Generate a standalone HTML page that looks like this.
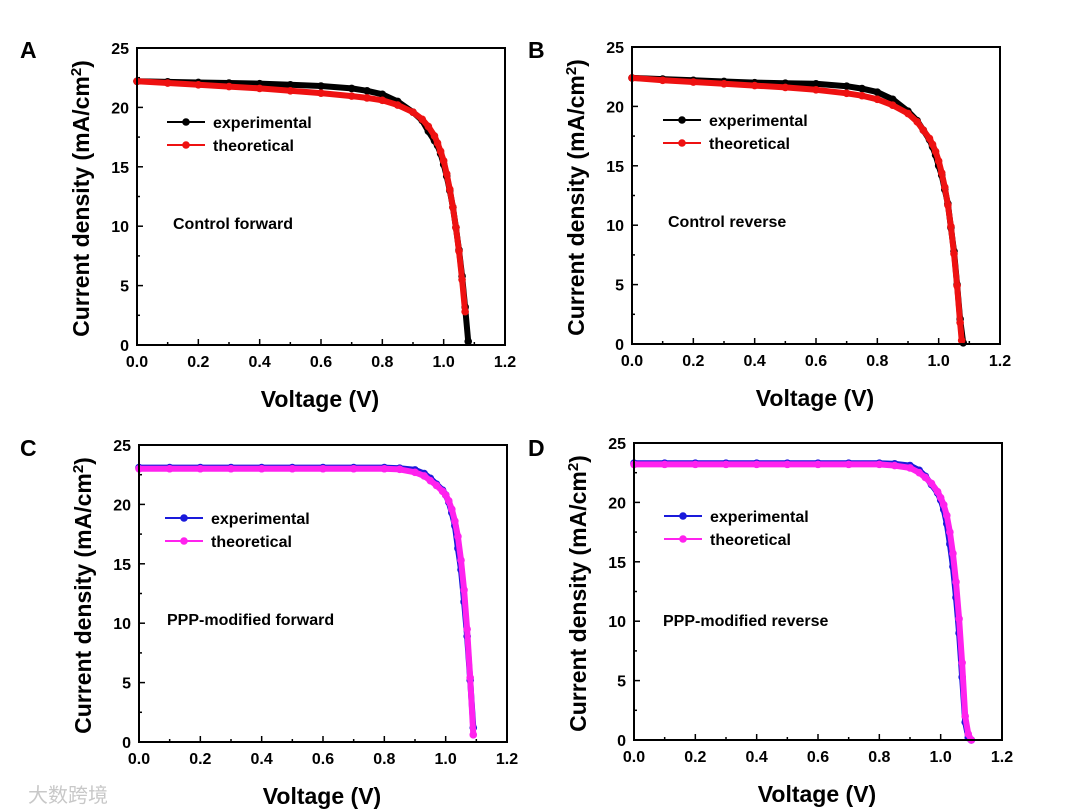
<!DOCTYPE html>
<html><head><meta charset="utf-8"><style>
body{margin:0;background:#fff;}
svg{display:block;font-family:"Liberation Sans",Arial,sans-serif;}
</style></head><body>
<svg id="fig" width="1080" height="812" viewBox="0 0 1080 812"></svg>
<script>
// Data arrays (voltage in V, current density in mA/cm2)
const vA_exp=[0,0.1,0.2,0.3,0.4,0.5,0.6,0.7,0.75,0.8,0.85,0.9,0.93,0.95,0.97,0.98,0.99,1.0,1.01,1.02,1.03,1.04,1.05,1.06,1.07,1.08];
const jA_exp=[22.2,22.15,22.1,22.05,22.0,21.9,21.8,21.6,21.4,21.1,20.5,19.6,18.9,18.0,17.2,16.8,16.1,15.2,14.2,13.0,11.6,9.9,8.0,5.8,3.2,0.3];
const vA_th=[0,0.1,0.2,0.3,0.4,0.5,0.6,0.7,0.75,0.8,0.85,0.9,0.93,0.95,0.97,0.98,0.99,1.0,1.01,1.02,1.03,1.04,1.05,1.06,1.07];
const jA_th=[22.2,22.05,21.9,21.75,21.6,21.4,21.2,20.95,20.8,20.6,20.2,19.6,19.0,18.4,17.6,17.0,16.3,15.5,14.4,13.1,11.6,9.9,7.9,5.5,2.8];
const vB_exp=[0,0.1,0.2,0.3,0.4,0.5,0.6,0.7,0.75,0.8,0.85,0.9,0.93,0.95,0.97,0.98,0.99,1.0,1.01,1.02,1.03,1.04,1.05,1.06,1.07,1.08];
const jB_exp=[22.4,22.3,22.2,22.1,22.0,21.95,21.9,21.7,21.5,21.2,20.6,19.6,18.8,18.0,17.2,16.6,15.9,15.0,14.2,13.0,11.8,9.8,7.8,5.0,2.1,0.1];
const vB_th=[0,0.1,0.2,0.3,0.4,0.5,0.6,0.7,0.75,0.8,0.85,0.9,0.93,0.95,0.97,0.98,0.99,1.0,1.01,1.02,1.03,1.04,1.05,1.06,1.07,1.075];
const jB_th=[22.4,22.2,22.05,21.9,21.75,21.6,21.4,21.1,20.9,20.6,20.1,19.4,18.7,18.0,17.3,16.8,16.2,15.4,14.4,13.2,11.7,9.9,7.6,4.9,1.8,0.3];
const vC_exp=[0,0.1,0.2,0.3,0.4,0.5,0.6,0.7,0.8,0.85,0.9,0.93,0.95,0.97,0.99,1.0,1.01,1.02,1.03,1.04,1.05,1.06,1.07,1.08,1.09];
const jC_exp=[23.1,23.1,23.1,23.1,23.1,23.1,23.1,23.1,23.1,23.05,22.9,22.6,22.2,21.7,21.2,20.8,20.2,19.3,18.2,16.3,14.5,11.8,8.9,5.2,1.2];
const vC_th=[0,0.1,0.2,0.3,0.4,0.5,0.6,0.7,0.8,0.85,0.9,0.93,0.95,0.97,0.99,1.0,1.01,1.02,1.03,1.04,1.05,1.06,1.07,1.08,1.09];
const jC_th=[23.0,23.0,23.0,23.0,23.0,23.0,23.0,23.0,23.0,22.95,22.7,22.4,22.0,21.6,21.1,20.8,20.3,19.6,18.6,17.3,15.3,12.8,9.5,5.4,0.6];
const vD_exp=[0,0.1,0.2,0.3,0.4,0.5,0.6,0.7,0.8,0.85,0.9,0.93,0.95,0.97,0.99,1.0,1.01,1.02,1.03,1.04,1.05,1.06,1.07,1.08,1.09,1.1];
const jD_exp=[23.3,23.3,23.3,23.3,23.3,23.3,23.3,23.3,23.3,23.25,23.1,22.7,22.2,21.5,20.8,20.2,19.4,18.2,16.5,14.6,12.0,9.0,5.3,1.5,0.2,0];
const vD_th=[0,0.1,0.2,0.3,0.4,0.5,0.6,0.7,0.8,0.85,0.9,0.93,0.95,0.97,0.99,1.0,1.01,1.02,1.03,1.04,1.05,1.06,1.07,1.08,1.09,1.1];
const jD_th=[23.2,23.2,23.2,23.2,23.2,23.2,23.2,23.2,23.2,23.1,22.9,22.5,22.1,21.6,20.9,20.4,19.8,18.9,17.5,15.7,13.3,10.2,6.5,2.0,0.5,0];
const xTicks=["0.0","0.2","0.4","0.6","0.8","1.0","1.2"];
const yTicks=["0","5","10","15","20","25"];

const NS="http://www.w3.org/2000/svg";
const svg=document.getElementById('fig');
function mk(tag,attrs,parent,text){const e=document.createElementNS(NS,tag);for(const k in attrs)e.setAttribute(k,attrs[k]);if(text!==undefined)e.textContent=text;(parent||svg).appendChild(e);return e;}

const panels=[
 {id:'a',letter:'A',lx:20,ly:58,x0:137,y0:48,label:'Control forward',labx:173,laby:229,legx:167,legy:122,ve:vA_exp,je:jA_exp,vt:vA_th,jt:jA_th,ce:'#000000',ct:'#ee1111'},
 {id:'b',letter:'B',lx:528,ly:58,x0:632,y0:47,label:'Control reverse',labx:668,laby:227,legx:663,legy:120,ve:vB_exp,je:jB_exp,vt:vB_th,jt:jB_th,ce:'#000000',ct:'#ee1111'},
 {id:'c',letter:'C',lx:20,ly:456,x0:139,y0:445,label:'PPP-modified forward',labx:167,laby:625,legx:165,legy:518,ve:vC_exp,je:jC_exp,vt:vC_th,jt:jC_th,ce:'#1a1adb',ct:'#ff22ee'},
 {id:'d',letter:'D',lx:528,ly:456,x0:634,y0:443,label:'PPP-modified reverse',labx:663,laby:626,legx:664,legy:516,ve:vD_exp,je:jD_exp,vt:vD_th,jt:jD_th,ce:'#1a1adb',ct:'#ff22ee'}
];
const W=368,H=297;
panels.forEach(p=>{
 const g=mk('g',{});
 
 
 const sx=v=>p.x0+v/1.2*W, sy=j=>p.y0+H-j/25*H;
 const L=mk('text',{x:p.lx,y:p.ly,'font-size':23,'font-weight':'bold'},g,p.letter);
 
 
 for(let i=0;i<=12;i++){const x=sx(i*0.1);mk('line',{x1:x,x2:x,y1:p.y0+H,y2:p.y0+H-(i%2?3:6),stroke:'#000','stroke-width':1.5},g);}
 for(let i=0;i<=10;i++){const y=sy(i*2.5);mk('line',{x1:p.x0,x2:p.x0+(i%2?3:6),y1:y,y2:y,stroke:'#000','stroke-width':1.5},g);}
 xTicks.forEach((t,i)=>{const e=mk('text',{x:sx(i*0.2),y:p.y0+H+22,'font-size':16,'font-weight':'bold','text-anchor':'middle'},g,t);
  });
 yTicks.forEach((t,i)=>{const e=mk('text',{x:p.x0-8,y:sy(i*5)+6,'font-size':16,'font-weight':'bold','text-anchor':'end'},g,t);
  });
 const xt=mk('text',{x:p.x0+183,y:p.y0+H+62,'font-size':23,'font-weight':'bold','text-anchor':'middle'},g,'Voltage (V)');
 
 const yt=mk('text',{transform:`translate(${p.x0-48},${p.y0+H/2+2}) rotate(-90)`,'font-size':23,'font-weight':'bold','text-anchor':'middle'},g);
 yt.innerHTML='Current density (mA/cm<tspan dy="-8" font-size="15">2</tspan><tspan dy="8">)</tspan>';
 
 [[p.ve,p.je,p.ce,'experimental'],[p.vt,p.jt,p.ct,'theoretical']].forEach(([vs,js,c,nm])=>{
  const sg=mk('g',{},g);
  
  
  const pts=vs.map((v,i)=>sx(v).toFixed(1)+','+sy(js[i]).toFixed(1)).join(' ');
  mk('polyline',{points:pts,fill:'none',stroke:c,'stroke-width':6,'stroke-linejoin':'round'},sg);
  vs.forEach((v,i)=>{const m=mk('circle',{cx:sx(v),cy:sy(js[i]),r:3.8,fill:c},sg);
   });
 });
 const fr=mk('rect',{x:p.x0,y:p.y0,width:W,height:H,fill:'none',stroke:'#000','stroke-width':2},g);
 
 [[p.ce,'experimental',0],[p.ct,'theoretical',23]].forEach(([c,t,dy])=>{
  const lg=mk('g',{},g);
  
  
  mk('line',{x1:p.legx,x2:p.legx+38,y1:p.legy+dy,y2:p.legy+dy,stroke:c,'stroke-width':2},lg);
  mk('circle',{cx:p.legx+19,cy:p.legy+dy,r:3.8,fill:c},lg);
  mk('text',{x:p.legx+46,y:p.legy+dy+6,'font-size':16,'font-weight':'bold'},lg,t);
 });
 const lab=mk('text',{x:p.labx,y:p.laby,'font-size':16,'font-weight':'bold'},g,p.label);
 
});
const wm=mk('text',{x:28,y:802,'font-size':20,fill:'#c8c8c8','font-family':'"Liberation Sans","Noto Sans CJK SC",sans-serif'},svg,'大数跨境');


</script>
</body></html>
